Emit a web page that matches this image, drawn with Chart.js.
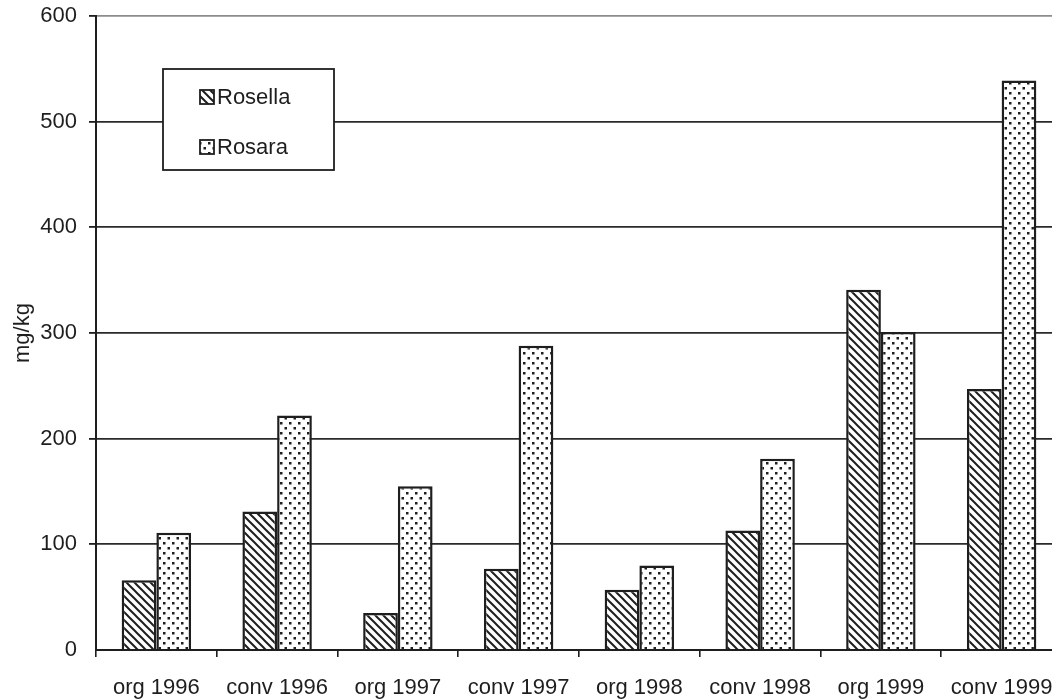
<!DOCTYPE html>
<html>
<head>
<meta charset="utf-8">
<script src="https://cdn.jsdelivr.net/npm/chart.js@4/dist/chart.umd.min.js"></script>
<style>
  html, body { margin: 0; padding: 0; background: #fff; overflow: hidden; }
  #wrap { width: 1080px; height: 699px; }
</style>
</head>
<body>
<div id="wrap"><canvas id="chart" width="1080" height="699"></canvas></div>
<script>
const categories = ['org 1996', 'conv 1996', 'org 1997', 'conv 1997', 'org 1998', 'conv 1998', 'org 1999', 'conv 1999'];
const rosella = [66, 131, 35, 77, 57, 113, 341, 247];
const rosara = [111, 222, 155, 288, 80, 181, 301, 539];
const yTicks = [0, 100, 200, 300, 400, 500, 600];
const seriesNames = ['Rosella', 'Rosara'];

const FONT = "'Liberation Sans', Arial, sans-serif";
const ink = '#1e1e1e';

function hatchPattern() {
  const s = 8;
  const c = document.createElement('canvas');
  c.width = s;
  c.height = s;
  const g = c.getContext('2d');
  g.fillStyle = '#fff';
  g.fillRect(0, 0, s, s);
  g.strokeStyle = ink;
  g.lineWidth = 2;
  g.beginPath();
  g.moveTo(-1, -1); g.lineTo(s + 1, s + 1);
  g.moveTo(-1, s - 1); g.lineTo(1, s + 1);
  g.moveTo(s - 1, -1); g.lineTo(s + 1, 1);
  g.stroke();
  return g.createPattern(c, 'repeat');
}

function dotPattern() {
  const c = document.createElement('canvas');
  c.width = 9;
  c.height = 10;
  const g = c.getContext('2d');
  g.fillStyle = '#fff';
  g.fillRect(0, 0, 9, 10);
  g.fillStyle = ink;
  g.fillRect(1, 2, 2.5, 2.5);
  g.fillRect(5.5, 7, 2.5, 2.5);
  return g.createPattern(c, 'repeat');
}

const fills = [hatchPattern(), dotPattern()];

// legend box sitting inside the plot, like the original
const boxLegend = {
  id: 'boxLegend',
  afterDraw(chart) {
    const { ctx } = chart;
    ctx.save();
    ctx.fillStyle = '#fff';
    ctx.fillRect(163, 69, 171, 101);
    ctx.strokeStyle = ink;
    ctx.lineWidth = 1.8;
    ctx.strokeRect(163, 69, 171, 101);
    ctx.font = '22px ' + FONT;
    ctx.textBaseline = 'middle';
    chart.data.datasets.forEach((ds, i) => {
      const y = 97 + i * 50;
      ctx.fillStyle = ds.backgroundColor;
      ctx.fillRect(200, y - 7, 14, 14);
      ctx.lineWidth = 1.8;
      ctx.strokeRect(200, y - 7, 14, 14);
      ctx.fillStyle = ink;
      ctx.fillText(ds.label, 217, y + 1);
    });
    ctx.restore();
  },
};

new Chart(document.getElementById('chart'), {
  type: 'bar',
  data: {
    labels: categories,
    datasets: [
      {
        label: seriesNames[0],
        data: rosella,
        backgroundColor: fills[0],
        borderColor: ink,
        borderWidth: 2.5,
      },
      {
        label: seriesNames[1],
        data: rosara,
        backgroundColor: fills[1],
        borderColor: ink,
        borderWidth: 2.5,
      },
    ],
  },
  options: {
    responsive: false,
    animation: false,
    categoryPercentage: 0.575,
    barPercentage: 1,
    layout: {
      padding: { left: 0, right: 18, top: 16, bottom: 0 },
    },
    plugins: {
      legend: { display: false },
      tooltip: { enabled: false },
    },
    scales: {
      x: {
        afterFit: (scale) => { scale.height = 49; },
        grid: {
          offset: true,
          drawOnChartArea: false,
          tickLength: 7,
          color: ink,
          lineWidth: 1.6,
        },
        border: { color: ink, width: 2 },
        ticks: {
          color: ink,
          padding: 18,
          maxRotation: 0,
          autoSkip: false,
          font: { family: FONT, size: 22 },
        },
      },
      y: {
        min: yTicks[0],
        max: yTicks[yTicks.length - 1],
        afterFit: (scale) => {
          scale.width = 96;
          scale.paddingTop = 0;
          scale.paddingBottom = 0;
        },
        afterBuildTicks: (scale) => {
          scale.ticks = yTicks.map((v) => ({ value: v }));
        },
        grid: {
          tickLength: 7,
          lineWidth: 1.8,
          color: (c) => (c.tick && c.tick.value === 600 ? '#8c8c8c' : '#2a2a2a'),
          tickColor: (c) => (c.tick && c.tick.value === 0 ? 'rgba(0,0,0,0)' : ink),
        },
        border: { color: ink, width: 2 },
        ticks: {
          color: ink,
          padding: 12,
          font: { family: FONT, size: 22 },
        },
        title: {
          display: true,
          text: 'mg/kg',
          color: ink,
          padding: { top: 10, bottom: 4 },
          font: { family: FONT, size: 22 },
        },
      },
    },
  },
  plugins: [boxLegend],
});
</script>
</body>
</html>
